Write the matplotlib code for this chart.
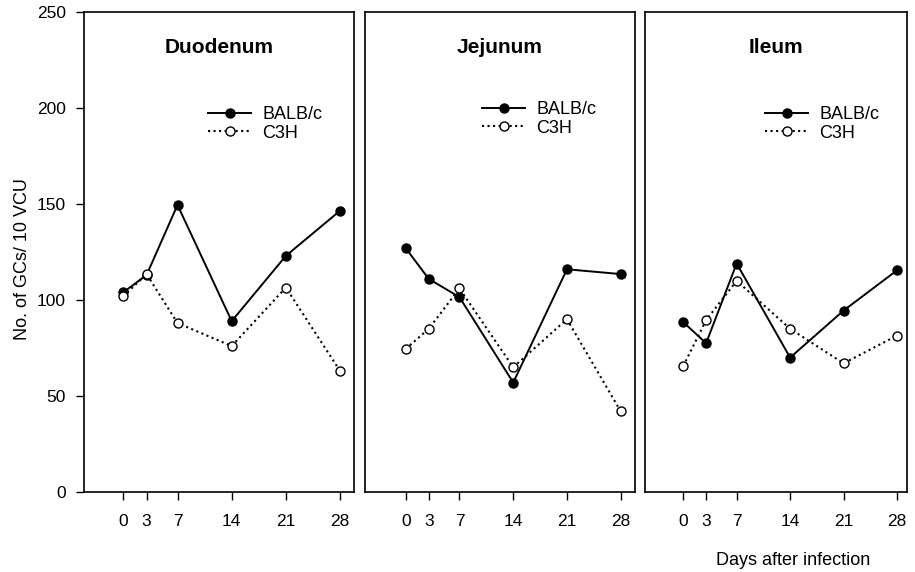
import matplotlib
matplotlib.use("Agg")
import matplotlib.pyplot as plt

plt.rcParams['font.family'] = ['Liberation Sans', 'DejaVu Sans']

days = [0, 3, 7, 14, 21, 28]
day_labels = ["0", "3", "7", "14", "21", "28"]
panels = ["Duodenum", "Jejunum", "Ileum"]

duodenum_balb = [104, 113, 149.5, 89, 123, 146.5]
duodenum_c3h = [102, 113.5, 88, 76, 106.5, 63]
jejunum_balb = [127, 111, 101.5, 57, 116, 113.5]
jejunum_c3h = [74.5, 85, 106, 65, 90, 42]
ileum_balb = [88.5, 77.5, 119, 70, 94.5, 115.5]
ileum_c3h = [65.5, 89.5, 110, 85, 67, 81.5]

balb_series = [duodenum_balb, jejunum_balb, ileum_balb]
c3h_series = [duodenum_c3h, jejunum_c3h, ileum_c3h]
series_names = ["BALB/c", "C3H"]
y_ticks = [0, 50, 100, 150, 200, 250]

W, H = 915, 572
fig = plt.figure(figsize=(W / 100, H / 100), dpi=100)

boxes = [(84, 354), (365, 635), (645, 907)]
xlims = [(-5.08, 29.8), (-5.3, 29.86), (-5.0, 29.3)]
legend_xy = [(208, 106), (482, 101), (765, 106)]
top_px, bot_px = 12, 492

for i, (name, (l, r), xl) in enumerate(zip(panels, boxes, xlims)):
    ax = fig.add_axes([l / W, (H - bot_px) / H, (r - l) / W, (bot_px - top_px) / H])
    ax.plot(days, balb_series[i], '-', color='black', lw=1.4, marker='o',
            ms=6.5, mfc='black', mec='black', label=series_names[0])
    ax.plot(days, c3h_series[i], ':', color='black', lw=1.5, marker='o',
            ms=6.5, mfc='white', mec='black', mew=1.0, label=series_names[1])
    ax.set_xlim(*xl)
    ax.set_ylim(0, 250)
    ax.set_xticks(days)
    ax.set_xticklabels(day_labels, fontsize=12.5)
    ax.tick_params(axis='x', direction='out', length=6, width=1.0, pad=10)
    if i == 0:
        ax.set_yticks(y_ticks)
        ax.set_yticklabels([str(v) for v in y_ticks], fontsize=12.5)
        ax.tick_params(axis='y', direction='out', length=6, width=1.0, pad=7)
        ax.set_ylabel("No. of GCs/ 10 VCU", fontsize=13)
        ax.yaxis.set_label_coords(-0.195, 0.485)
    else:
        ax.set_yticks([])
    for s in ax.spines.values():
        s.set_linewidth(1.2)
    ax.text(0.5, 0.927, name, transform=ax.transAxes, ha='center', va='center',
            fontsize=15, fontweight='bold')
    lx, ly = legend_xy[i]
    ax.legend(loc='upper left', bbox_to_anchor=(lx / W, 1 - ly / H),
              bbox_transform=fig.transFigure, frameon=False,
              fontsize=13, handlelength=2.4, handletextpad=0.6,
              labelspacing=0.1, borderaxespad=0, borderpad=0)
    if i == 2:
        ax.set_xlabel("Days after infection", fontsize=13)
        ax.xaxis.set_label_coords((793 - l) / (r - l), -(552 - bot_px) / (bot_px - top_px))

fig.savefig("out.png", dpi=100)
